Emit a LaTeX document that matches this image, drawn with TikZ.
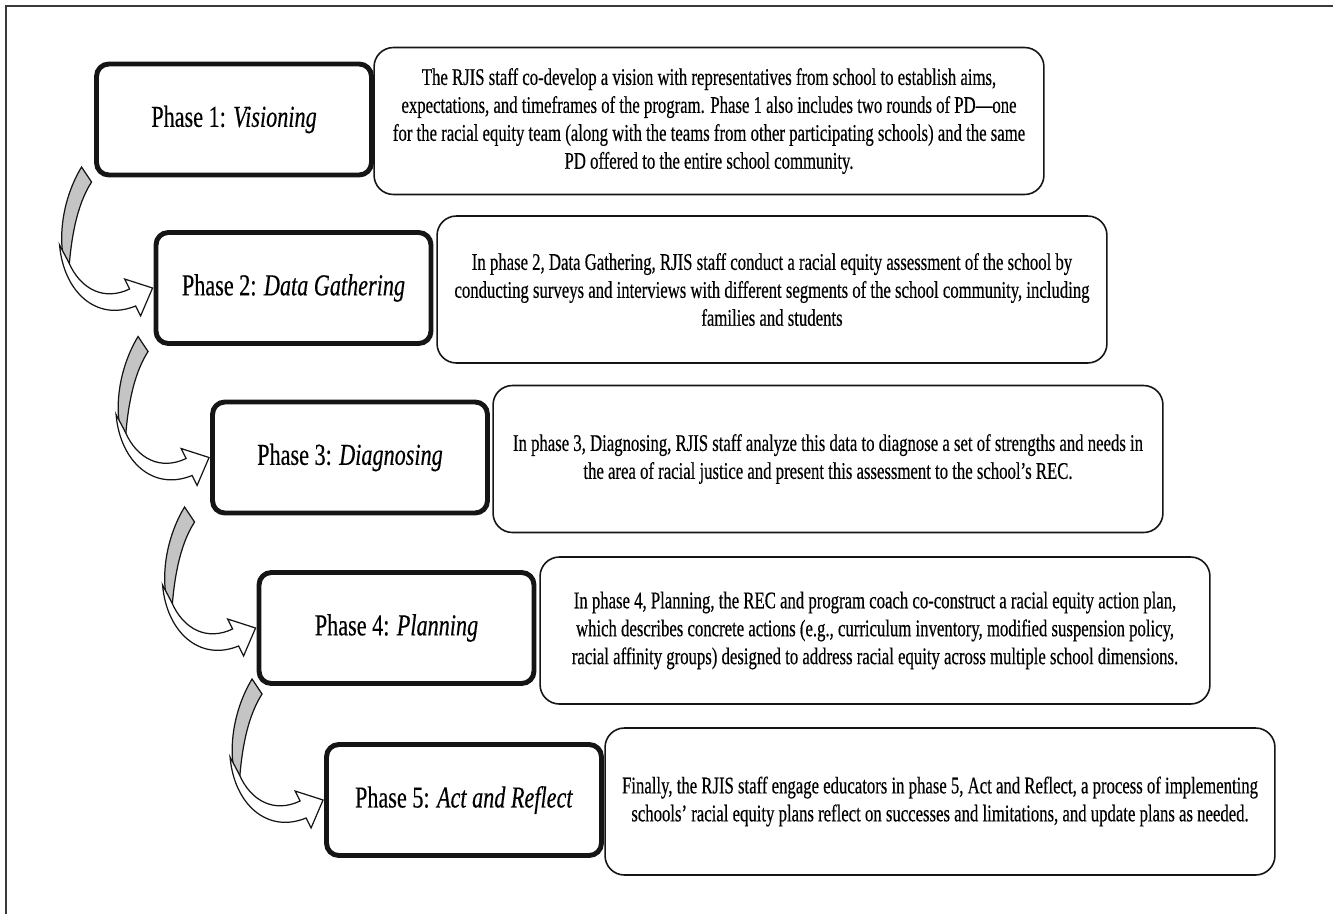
\documentclass[tikz,border=0pt]{standalone}
\usepackage{fontspec}
\setmainfont{Liberation Serif}[FakeStretch=0.73,FakeBold=0.35]
\newfontfamily\notefont{Liberation Serif}[FakeStretch=0.70,FakeBold=0.35]
\usetikzlibrary{calc}
\definecolor{Ink}{HTML}{151515}
\definecolor{ArrowShade}{HTML}{C4C4C4}
\definecolor{FrameGray}{HTML}{3A3A3A}

\tikzset{
  phasebox/.style={draw=Ink,line width=2.8pt,rounded corners=7pt,fill=white,
    minimum width=5.5cm,minimum height=2.22cm,inner sep=0pt,
    font=\fontsize{17.3}{20}\selectfont},
  notebox/.style={draw=Ink,line width=0.9pt,rounded corners=11pt,fill=white,
    minimum width=13.4cm,minimum height=2.94cm,inner sep=0pt,align=center,
    font=\notefont\fontsize{13.6}{15.9}\selectfont},
  pics/bendarrow/.style={code={
    \draw[Ink,line width=0.7pt,fill=ArrowShade]
      (-67,-121) .. controls (-87,-88) and (-93,-43) .. (-80,-13)
      .. controls (-78,-48) and (-72,-83) .. (-57,-106) -- cycle;
    \draw[Ink,line width=0.7pt,fill=white]
      (-89,-43) .. controls (-85,4) and (-52,34) .. (-13,18) -- (-8,28) -- (4,0)
      -- (-24,-9) -- (-19,1) .. controls (-44,13) and (-68,2) .. (-80,-26) -- cycle;
  }}
}

\begin{document}
\begin{tikzpicture}[x=0.02cm,y=-0.02cm]
      \useasboundingbox (0,0) rectangle (1333,914);
      \draw[FrameGray,line width=1.2pt] (6,914) -- (6,6) -- (1333,6);

      % descriptions
      \node[notebox] (d1) at (709,121)
        {The RJIS staff co-develop a vision with representatives from school to establish aims,\\
         expectations, and timeframes of the program. Phase 1 also includes two rounds of PD—one\\
         for the racial equity team (along with the teams from other participating schools) and the same\\
         PD offered to the entire school community.};
      \node[notebox] (d2) at (772,289.5)
        {In phase 2, Data Gathering, RJIS staff conduct a racial equity assessment of the school by\\
         conducting surveys and interviews with different segments of the school community, including\\
         families and students};
      \node[notebox] (d3) at (828,459)
        {In phase 3, Diagnosing, RJIS staff analyze this data to diagnose a set of strengths and needs in\\
         the area of racial justice and present this assessment to the school’s REC.};
      \node[notebox] (d4) at (875,630.5)
        {In phase 4, Planning, the REC and program coach co-construct a racial equity action plan,\\
         which describes concrete actions (e.g., curriculum inventory, modified suspension policy,\\
         racial affinity groups) designed to address racial equity across multiple school dimensions.};
      \node[notebox] (d5) at (940,801.5)
        {Finally, the RJIS staff engage educators in phase 5, Act and Reflect, a process of implementing\\
         schools’ racial equity plans reflect on successes and limitations, and update plans as needed.};

      % phases
      \node[phasebox] (p1) at (234,119.5) {Phase 1: \textit{Visioning}};
      \node[phasebox] (p2) at (293.5,288) {Phase 2: \textit{Data Gathering}};
      \node[phasebox] (p3) at (350,457.5) {Phase 3: \textit{Diagnosing}};
      \node[phasebox] (p4) at (396.5,628) {Phase 4: \textit{Planning}};
      \node[phasebox] (p5) at (464,800) {Phase 5: \textit{Act and Reflect}};

      \pic at ($(p2.west)+(-5,0)$) {bendarrow};
      \pic at ($(p3.west)+(-5,0)$) {bendarrow};
      \pic at ($(p4.west)+(-5,0)$) {bendarrow};
      \pic at ($(p5.west)+(-5,0)$) {bendarrow};
    \end{tikzpicture}
\end{document}
